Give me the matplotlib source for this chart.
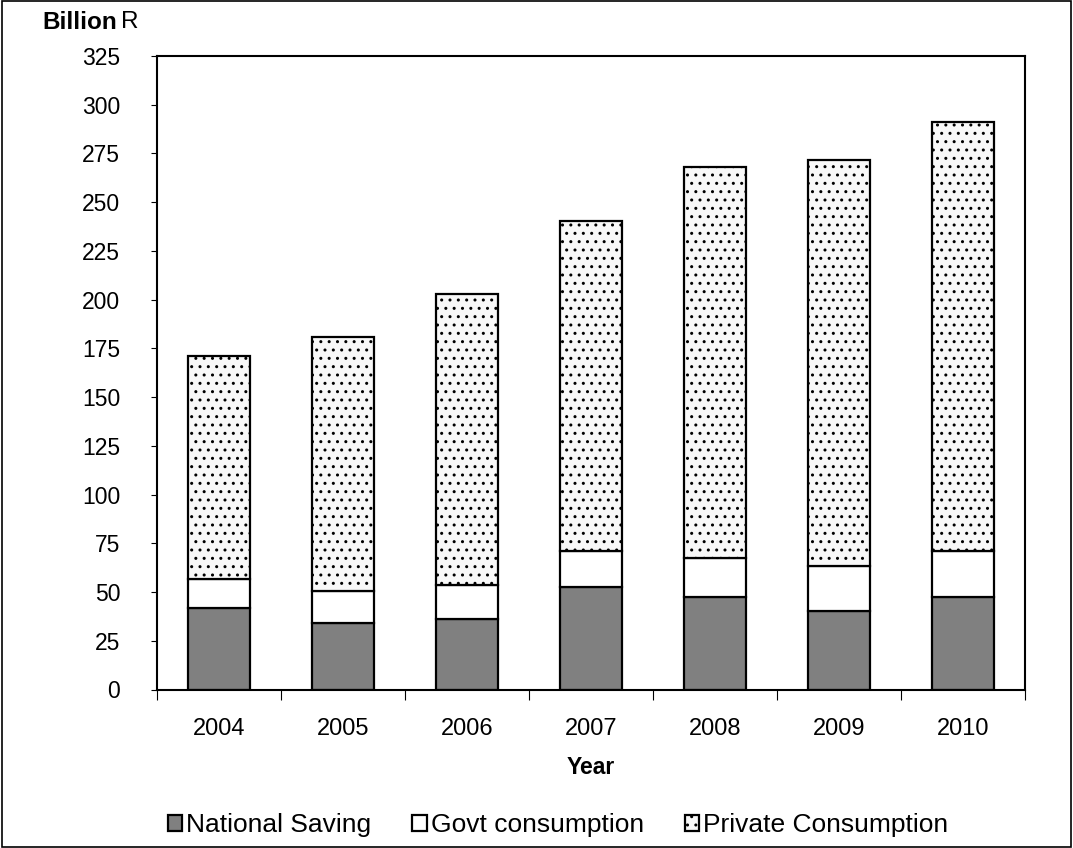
import matplotlib.pyplot as plt
import matplotlib.patches as mpatches
import numpy as np

plt.rcParams['font.family'] = ['Liberation Sans', 'DejaVu Sans']
plt.rcParams['hatch.color'] = '#444444'
plt.rcParams['hatch.linewidth'] = 1.0

years = ['2004', '2005', '2006', '2007', '2008', '2009', '2010']
national_saving = [41.6, 34.0, 36.2, 52.4, 47.3, 40.3, 47.5]
govt_consumption = [15.2, 16.7, 17.6, 18.4, 20.3, 23.1, 23.5]
private_consumption = [114.2, 130.3, 148.9, 169.6, 200.4, 208.2, 220.1]

fig = plt.figure(figsize=(10.73, 8.48), dpi=100)
ax = fig.add_axes([157/1073, 1-689.5/848, 868/1073, 633.5/848])

x = np.arange(len(years))
w = 0.5
s = np.array(national_saving)
g = np.array(govt_consumption)
p = np.array(private_consumption)

ax.bar(x, s, w, color='#808080', edgecolor='black', linewidth=1.6, label='National Saving')
ax.bar(x, g, w, bottom=s, color='white', edgecolor='black', linewidth=1.6, label='Govt consumption')
ax.bar(x, p, w, bottom=s+g, color='#f8f8f8', edgecolor='black', linewidth=1.6, hatch='..',
       label='Private Consumption')

ax.set_xlim(-0.5, len(years)-0.5)
ax.set_ylim(0, 325)
ax.set_yticks(np.arange(0, 326, 25))
ax.set_xticks(x)
ax.set_xticklabels(years)
ax.set_xticks(np.arange(-0.5, len(years), 1), minor=True)
ax.tick_params(axis='x', which='major', length=0, pad=20.5, labelsize=17)
ax.tick_params(axis='x', which='minor', length=7, width=0.8, direction='out')
ax.tick_params(axis='y', length=4.5, width=0.8, pad=22, labelsize=16.5)
for sp in ax.spines.values():
    sp.set_linewidth(1.5)

fig.text(591/1073, 1-767/848, 'Year', fontsize=16.5, fontweight='bold', ha='center', va='center')
fig.text(42/1073, 1-22.5/848, 'Billion', fontsize=17.5, fontweight='bold', va='center')
fig.text(121/1073, 1-22.5/848, 'R', fontsize=17.5, va='center')

fig.legend(loc='center', bbox_to_anchor=(558/1073, 1-825/848), ncol=3, frameon=False,
           fontsize=19, handlelength=0.55, handleheight=0.55, handletextpad=0.15,
           columnspacing=1.55)

fig.patches.append(mpatches.Rectangle((0.002, 0.001), 0.996, 0.998, transform=fig.transFigure,
                                      fill=False, edgecolor='black', linewidth=1.2))

fig.savefig('out.png', dpi=100)
